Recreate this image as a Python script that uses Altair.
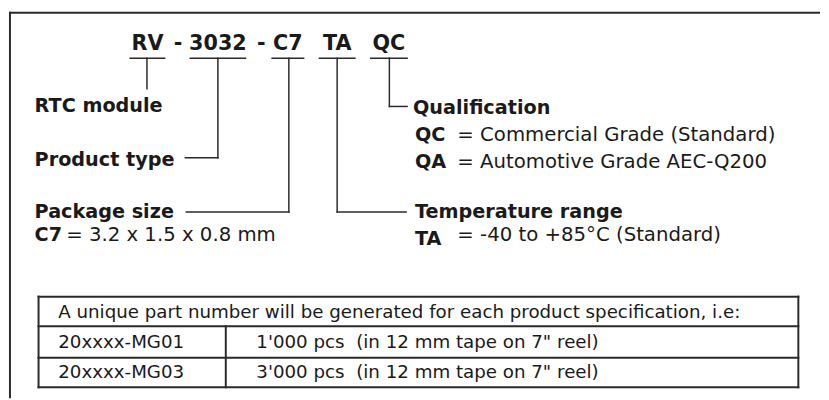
import altair as alt
import pandas as pd

# ---------------- content ----------------
title_tokens = ["RV", "-", "3032", "-", "C7", "TA", "QC"]
bold_labels = ["RTC module", "Product type", "Qualification", "Package size",
               "Temperature range", "QC", "QA", "C7", "TA"]
regular_texts = ["= Commercial Grade (Standard)", "= Automotive Grade AEC-Q200",
                 "= 3.2 x 1.5 x 0.8 mm", "= -40 to +85°C (Standard)"]
table_texts = ["A unique part number will be generated for each product specification, i.e:",
               "20xxxx-MG01", "1'000 pcs \u00a0(in 12 mm tape on 7\" reel)",
               "20xxxx-MG03", "3'000 pcs \u00a0(in 12 mm tape on 7\" reel)"]

# ---------------- layout (page pixels) ----------------
title_x = [148.5, 179.5, 220, 264, 291, 341, 393.5]
title_y = [48, 48, 48, 48, 48, 48, 48]
bold_x = [34, 34, 418, 34, 420, 420, 420, 34, 420]
bold_y = [111, 165, 113, 218, 218, 140, 167, 242, 246]
reg_x = [463, 463, 66, 463]
reg_y = [140, 167, 242, 242]
tab_x = [58, 58, 259, 58, 259]
tab_y = [320, 350, 350, 381, 381]

# line segments: x1, y1, x2, y2, width
seg_x1 = [131, 192, 275, 323, 375, 148, 220, 187, 292, 188, 341, 341, 394, 394,
          9, 9, 38, 38, 38, 809, 38, 38, 228]
seg_y1 = [56, 56, 56, 56, 56, 56, 56, 157, 56, 212, 56, 212, 56, 105,
          10, 10, 298, 390, 298, 298, 328, 360, 328]
seg_x2 = [166, 248, 307, 359, 412, 148, 220, 220, 292, 292, 341, 411, 394, 412,
          830, 9, 809, 809, 38, 809, 809, 809, 228]
seg_y2 = [56, 56, 56, 56, 56, 87, 157, 157, 212, 212, 212, 212, 105, 105,
          10, 400, 298, 390, 390, 390, 328, 360, 390]
seg_w = [1.5] * 14 + [2] * 9

W, H = 813, 384
xs = alt.Scale(domain=[8, 8 + W], nice=False, zero=False)
ys = alt.Scale(domain=[8, 8 + H], nice=False, zero=False, reverse=True)

segs = pd.DataFrame({"x": seg_x1, "y": seg_y1, "x2": seg_x2, "y2": seg_y2, "w": seg_w})
lines = alt.Chart(segs).mark_rule(color="#2a2a2a", strokeCap="square").encode(
    x=alt.X("x:Q", scale=xs, axis=None),
    x2="x2:Q",
    y=alt.Y("y:Q", scale=ys, axis=None),
    y2="y2:Q",
    strokeWidth=alt.StrokeWidth("w:Q", scale=None, legend=None),
)

def text_layer(labels, xv, yv, size, weight, align):
    df = pd.DataFrame({"label": labels, "x": xv, "y": yv})
    return alt.Chart(df).mark_text(
        font="DejaVu Sans", fontSize=size, fontWeight=weight, align=align,
        baseline="alphabetic", color="#1a1a1a"
    ).encode(
        x=alt.X("x:Q", scale=xs, axis=None),
        y=alt.Y("y:Q", scale=ys, axis=None),
        text="label:N",
    )

title = text_layer(title_tokens, title_x, title_y, 21, "bold", "center")
bolds = text_layer(bold_labels, bold_x, bold_y, 19.5, "bold", "left")
regs = text_layer(regular_texts, reg_x, reg_y, 20, "normal", "left")
tabs = text_layer(table_texts, tab_x, tab_y, 18.5, "normal", "left")

chart = alt.layer(lines, title, bolds, regs, tabs).properties(
    width=W, height=H, padding=0
).configure_view(strokeWidth=0)

chart.save("out.html", embed_options={"renderer": "svg", "actions": False})
